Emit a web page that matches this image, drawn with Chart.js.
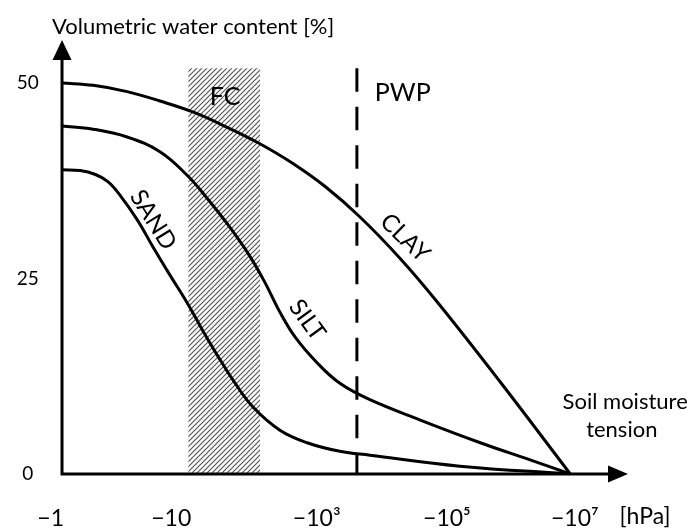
<!DOCTYPE html>
<html>
<head>
<meta charset="utf-8">
<title>Soil water retention curves</title>
<script src="https://cdn.jsdelivr.net/npm/chart.js@4.4.0/dist/chart.umd.min.js"></script>
<style>
  html, body { margin: 0; padding: 0; background: #fff; }
  #wrap { width: 687px; height: 530px; }
</style>
</head>
<body>
<div id="wrap"><canvas id="retention-chart" width="687" height="530"></canvas></div>
<script>
// Position along the tension axis (not log-uniform in the drawing): 0 = y axis, 100 = arrow tip
const tickPositions = [-2, 19.3, 45, 68, 90.6];
const tickLabels = ['\u22121', '\u221210', '\u221210\u00b3', '\u221210\u2075', '\u221210\u2077'];
const yTicks = [0, 25, 50];

// Volumetric water content [%]
const clayX = [0, 5.5, 11.5, 17.3, 23.1, 29.0, 34.8, 40.6, 46.6, 52.6, 59.7, 66.3, 77.4, 89.8];
const clayY = [50.0, 49.7, 48.9, 47.7, 46.3, 44.4, 42.3, 39.8, 36.7, 32.9, 27.6, 22.0, 11.8, 0];

const siltX = [0, 5.5, 11.5, 17.3, 22.1, 25.6, 29.2, 32.7, 35.7, 38.5, 41.2, 45.1, 49.1, 54.4, 63.3, 73.9, 82.7, 89.8];
const siltY = [44.5, 44.1, 43.1, 41.2, 38.2, 35.3, 32.0, 28.4, 24.7, 20.7, 17.5, 14.2, 11.6, 9.5, 6.9, 4.0, 1.8, 0];

const sandX = [0, 3.2, 5.9, 8.1, 10.2, 13.3, 16.1, 19.1, 22.1, 24.9, 27.6, 30.4, 33.7, 38.5, 43.3, 49.1, 54.4, 70.3, 89.8];
const sandY = [38.9, 38.8, 38.3, 37.4, 35.7, 32.5, 29.0, 25.4, 21.9, 18.3, 15.0, 11.8, 8.6, 5.6, 4.0, 2.9, 2.4, 1.0, 0];

// field capacity band and permanent wilting point
const fcRange = [22.3, 35.0];
const fcTop = 51.9;
const pwpPos = 52.1;
const pwpTop = 51.9;

const FONT = 'Lato';

const canvas = document.getElementById('retention-chart');
const ctx = canvas.getContext('2d');

function makeHatch() {
  const s = 5;
  const c = document.createElement('canvas');
  c.width = s;
  c.height = s;
  const g = c.getContext('2d');
  g.strokeStyle = '#555';
  g.lineWidth = 1.2;
  g.beginPath();
  g.moveTo(0, s); g.lineTo(s, 0);
  g.moveTo(-1, 1); g.lineTo(1, -1);
  g.moveTo(s - 1, s + 1); g.lineTo(s + 1, s - 1);
  g.stroke();
  return ctx.createPattern(c, 'repeat');
}

const toPoints = (xs, ys) => xs.map((v, i) => ({ x: v, y: ys[i] }));

const curveStyle = {
  borderColor: '#000',
  borderWidth: 3,
  pointRadius: 0,
  fill: false,
  tension: 0.4,
  order: 1
};

// Axes with arrows, and all the text labels
const drawExtras = {
  id: 'drawExtras',
  afterDatasetsDraw(chart) {
    const { ctx, scales: { x, y } } = chart;
    const x0 = x.getPixelForValue(0);
    const y0 = y.getPixelForValue(0);
    const xEnd = x.getPixelForValue(100);
    const yEnd = y.getPixelForValue(55.5);

    ctx.save();
    ctx.strokeStyle = '#000';
    ctx.fillStyle = '#000';
    ctx.lineWidth = 3;
    ctx.lineJoin = 'miter';
    ctx.beginPath();
    ctx.moveTo(x0, yEnd + 15);
    ctx.lineTo(x0, y0);
    ctx.lineTo(xEnd - 15, y0);
    ctx.stroke();

    ctx.beginPath();
    ctx.moveTo(x0, yEnd);
    ctx.lineTo(x0 - 9.5, yEnd + 20);
    ctx.lineTo(x0 + 9.5, yEnd + 20);
    ctx.closePath();
    ctx.fill();

    ctx.beginPath();
    ctx.moveTo(xEnd, y0);
    ctx.lineTo(xEnd - 20, y0 - 8.5);
    ctx.lineTo(xEnd - 20, y0 + 8.5);
    ctx.closePath();
    ctx.fill();

    ctx.textBaseline = 'middle';
    ctx.textAlign = 'left';
    ctx.font = `22px ${FONT}`;
    ctx.fillText('Volumetric water content [%]', 52, 27);

    ctx.textAlign = 'center';
    ctx.font = `23px ${FONT}`;
    ctx.fillText('[hPa]', 645, 517);
    ctx.font = `22px ${FONT}`;
    ctx.fillText('Soil moisture', x.getPixelForValue(99.5), y.getPixelForValue(9.2));
    ctx.fillText('tension', x.getPixelForValue(98.9), y.getPixelForValue(5.6));

    ctx.font = `25px ${FONT}`;
    ctx.fillText('FC', x.getPixelForValue(28.8), y.getPixelForValue(48.2));
    ctx.fillText('PWP', x.getPixelForValue(60.2), y.getPixelForValue(48.7));

    const curveLabels = [
      { text: 'SAND', x: 16.1, y: 32.5, angle: 58 },
      { text: 'SILT', x: 43.3, y: 19.7, angle: 54 },
      { text: 'CLAY', x: 60.6, y: 30.2, angle: 44 }
    ];
    ctx.font = `24px ${FONT}`;
    curveLabels.forEach(l => {
      ctx.save();
      ctx.translate(x.getPixelForValue(l.x), y.getPixelForValue(l.y));
      ctx.rotate(l.angle * Math.PI / 180);
      ctx.fillText(l.text, 0, 0);
      ctx.restore();
    });
    ctx.restore();
  }
};

new Chart(ctx, {
  type: 'line',
  data: {
    datasets: [
      Object.assign({ label: 'CLAY', data: toPoints(clayX, clayY) }, curveStyle),
      Object.assign({ label: 'SILT', data: toPoints(siltX, siltY) }, curveStyle),
      Object.assign({ label: 'SAND', data: toPoints(sandX, sandY) }, curveStyle),
      {
        label: 'PWP',
        data: [{ x: pwpPos, y: pwpTop }, { x: pwpPos, y: 0 }],
        borderColor: '#000',
        borderWidth: 3,
        borderDash: [23.5, 15],
        pointRadius: 0,
        fill: false,
        order: 2
      },
      {
        label: 'FC',
        data: [{ x: fcRange[0], y: fcTop }, { x: fcRange[1], y: fcTop }],
        borderWidth: 0,
        borderColor: 'rgba(0,0,0,0)',
        backgroundColor: makeHatch(),
        pointRadius: 0,
        fill: 'origin',
        order: 10
      }
    ]
  },
  options: {
    responsive: false,
    devicePixelRatio: 1,
    animation: false,
    layout: { padding: { top: 40, right: 59, left: 0, bottom: 0 } },
    plugins: {
      legend: { display: false },
      tooltip: { enabled: false }
    },
    scales: {
      x: {
        type: 'linear',
        min: -2,
        max: 100,
        afterBuildTicks: s => { s.ticks = tickPositions.map(v => ({ value: v })); },
        afterFit: s => { s.height = 56; },
        grid: { display: false, drawTicks: false },
        border: { display: false },
        ticks: {
          autoSkip: false,
          maxRotation: 0,
          padding: 31,
          color: '#000',
          font: { family: FONT, size: 23 },
          callback: (v, i) => tickLabels[i]
        }
      },
      y: {
        type: 'linear',
        min: 0,
        max: 55.5,
        afterBuildTicks: s => { s.ticks = yTicks.map(v => ({ value: v })); },
        afterFit: s => { s.width = 50.7; },
        grid: { display: false, drawTicks: false },
        border: { display: false },
        ticks: {
          padding: 12,
          crossAlign: 'center',
          color: '#000',
          font: { family: FONT, size: 19 }
        }
      }
    }
  },
  plugins: [drawExtras]
});
</script>
</body>
</html>
